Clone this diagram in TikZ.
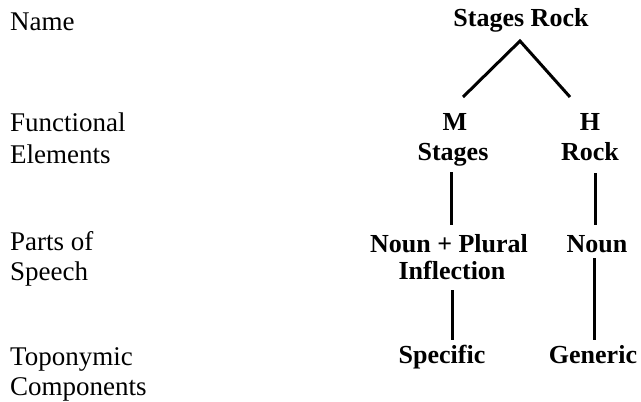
\documentclass[tikz,border=0pt]{standalone}
\usepackage{fontspec}
\setmainfont{Liberation Serif}
\newcommand\labfont{\fontsize{27}{31}\selectfont}
\newcommand\itemfont{\fontsize{26}{30}\selectfont\bfseries}
\begin{document}
\begin{tikzpicture}[x=1pt,y=-1pt,
  lab/.style={anchor=base west,inner sep=0pt,font=\labfont},
  item/.style={anchor=base,inner sep=0pt,font=\itemfont},
  link/.style={line width=3pt}]
\useasboundingbox[fill=white] (0,0) rectangle (641,402);

% level labels
\node[lab] (name)   at (10,30)    {Name};
\node[lab] (func)   at (10,131.5) {Functional};
\node[lab] (elem)   at (10,163)   {Elements};
\node[lab] (parts)  at (10,250)   {Parts of};
\node[lab] (speech) at (10,280)   {Speech};
\node[lab] (topo)   at (10,365)   {Toponymic};
\node[lab] (comp)   at (10,395)   {Components};

% analysis tree
\node[item] (sr)     at (521,26)  {Stages Rock};
\node[item] (m)      at (455,130) {M};
\node[item] (stages) at (453,160) {Stages};
\node[item] (h)      at (590,130) {H};
\node[item] (rock)   at (590,160) {Rock};
\node[item] (np)     at (449,252) {Noun + Plural};
\node[item] (infl)   at (452,279) {Inflection};
\node[item] (noun)   at (597,252) {Noun};
\node[item] (spec)   at (442,363) {Specific};
\node[item] (gen)    at (593,363) {Generic};

% branching under the name
\coordinate (apex)  at ([xshift=-1pt,yshift=-15pt]sr.base);
\coordinate (footm) at ([xshift=8pt,yshift=33pt]m.base);
\coordinate (footh) at ([xshift=-20pt,yshift=33pt]h.base);
\draw[link] (footm) -- (apex) -- (footh);

% vertical links
\draw[link] ([xshift=-2pt,yshift=-12pt]stages.base) -- ([xshift=2pt,yshift=27pt]np.base);
\draw[link] ([yshift=-11pt]infl.base) -- ([xshift=10pt,yshift=23pt]spec.base);
\draw[link] ([xshift=5pt,yshift=-13pt]rock.base) -- ([xshift=-2pt,yshift=27pt]noun.base);
\draw[link] ([xshift=-3pt,yshift=-6pt]noun.base) -- ([xshift=1pt,yshift=23pt]gen.base);
\end{tikzpicture}
\end{document}
